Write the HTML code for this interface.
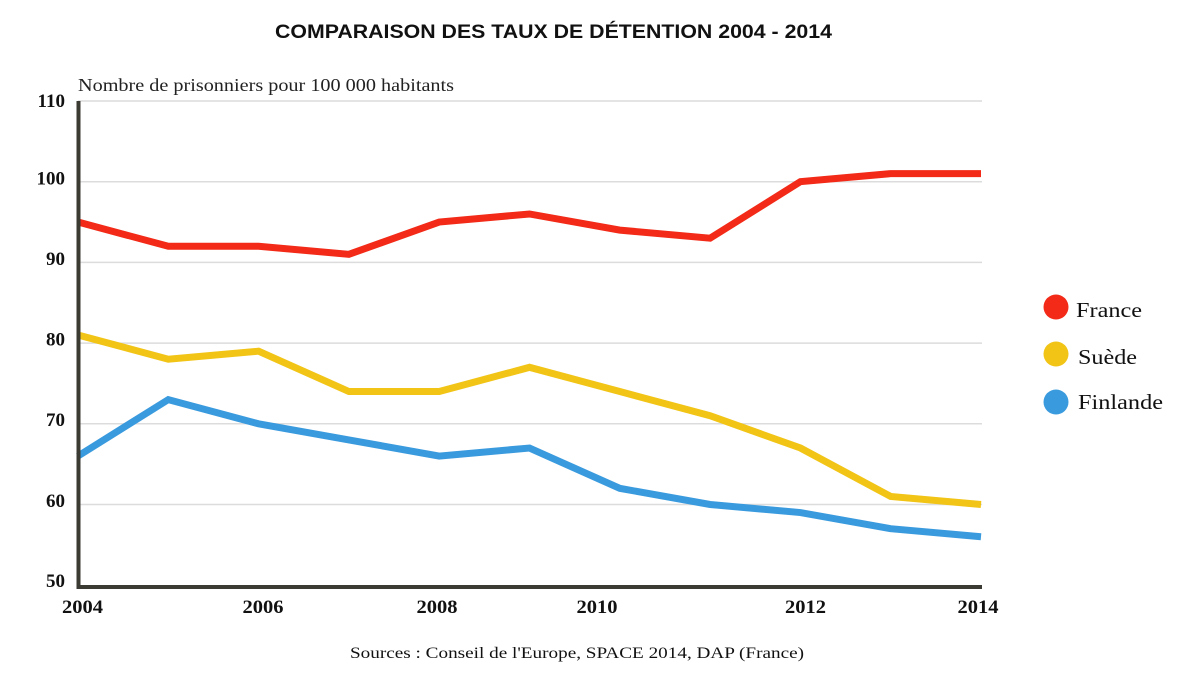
<!DOCTYPE html>
<html>
<head>
<meta charset="utf-8">
<style>
html,body{margin:0;padding:0;background:#fff;}
svg{display:block;}
</style>
</head>
<body>
<svg width="1200" height="676" viewBox="0 0 1200 676" xmlns="http://www.w3.org/2000/svg">
  <rect width="1200" height="676" fill="#fff"/>
  <!-- Title -->
  <text x="275" y="38" font-family="Liberation Sans, sans-serif" font-weight="bold" font-size="19" fill="#111" textLength="557" lengthAdjust="spacingAndGlyphs">COMPARAISON DES TAUX DE DÉTENTION 2004 - 2014</text>
  <!-- Subtitle -->
  <text x="78" y="91" font-family="Liberation Serif, serif" font-size="18" fill="#222" textLength="376" lengthAdjust="spacingAndGlyphs">Nombre de prisonniers pour 100 000 habitants</text>

  <!-- Gridlines -->
  <g stroke="#dcdcdc" stroke-width="1.5">
    <line x1="78" y1="101" x2="982" y2="101"/>
    <line x1="78" y1="181.7" x2="982" y2="181.7"/>
    <line x1="78" y1="262.4" x2="982" y2="262.4"/>
    <line x1="78" y1="343.1" x2="982" y2="343.1"/>
    <line x1="78" y1="423.8" x2="982" y2="423.8"/>
    <line x1="78" y1="504.5" x2="982" y2="504.5"/>
  </g>

  <!-- Y labels -->
  <g font-family="Liberation Serif, serif" font-weight="bold" font-size="19" fill="#111" text-anchor="end">
    <text x="65" y="107">110</text>
    <text x="65" y="184.5">100</text>
    <text x="65" y="265">90</text>
    <text x="65" y="345.5">80</text>
    <text x="65" y="426">70</text>
    <text x="65" y="507">60</text>
    <text x="65" y="587">50</text>
  </g>

  <!-- X labels -->
  <g font-family="Liberation Serif, serif" font-weight="bold" font-size="19" fill="#111" text-anchor="middle">
    <text x="82.5" y="613" textLength="41" lengthAdjust="spacingAndGlyphs">2004</text>
    <text x="263" y="613" textLength="41" lengthAdjust="spacingAndGlyphs">2006</text>
    <text x="437" y="613" textLength="41" lengthAdjust="spacingAndGlyphs">2008</text>
    <text x="597" y="613" textLength="41" lengthAdjust="spacingAndGlyphs">2010</text>
    <text x="805.5" y="613" textLength="41" lengthAdjust="spacingAndGlyphs">2012</text>
    <text x="978" y="613" textLength="41" lengthAdjust="spacingAndGlyphs">2014</text>
  </g>

  <!-- Series -->
  <g fill="none" stroke-width="7" stroke-linejoin="miter" stroke-linecap="butt">
    <polyline stroke="#f22a17" points="78,222.05 168.3,246.26 258.6,246.26 348.9,254.33 439.2,222.05 529.5,213.98 619.8,230.12 710.1,238.19 800.4,181.7 890.7,173.63 981,173.63"/>
    <polyline stroke="#f1c416" points="78,335.03 168.3,359.24 258.6,351.17 348.9,391.52 439.2,391.52 529.5,367.31 619.8,391.52 710.1,415.73 800.4,448.01 890.7,496.43 981,504.5"/>
    <polyline stroke="#3a9ade" points="78,456.08 168.3,399.59 258.6,423.8 348.9,439.94 439.2,456.08 529.5,448.01 619.8,488.36 710.1,504.5 800.4,512.57 890.7,528.71 981,536.78"/>
  </g>

  <!-- Axes -->
  <line x1="78.5" y1="101" x2="78.5" y2="589" stroke="#3b3a33" stroke-width="4"/>
  <line x1="76.5" y1="587" x2="982" y2="587" stroke="#3b3a33" stroke-width="4"/>

  <!-- Legend -->
  <circle cx="1056" cy="307" r="12.5" fill="#f22a17"/>
  <circle cx="1056" cy="354" r="12.5" fill="#f1c416"/>
  <circle cx="1056" cy="402" r="12.5" fill="#3a9ade"/>
  <g font-family="Liberation Serif, serif" font-size="21" fill="#111">
    <text x="1076" y="317" textLength="66" lengthAdjust="spacingAndGlyphs">France</text>
    <text x="1078" y="364" textLength="59" lengthAdjust="spacingAndGlyphs">Suède</text>
    <text x="1078" y="409" textLength="85" lengthAdjust="spacingAndGlyphs">Finlande</text>
  </g>

  <!-- Source -->
  <text x="350" y="658" font-family="Liberation Serif, serif" font-size="16" fill="#111" textLength="454" lengthAdjust="spacingAndGlyphs">Sources : Conseil de l'Europe, SPACE 2014, DAP (France)</text>
</svg>
</body>
</html>
